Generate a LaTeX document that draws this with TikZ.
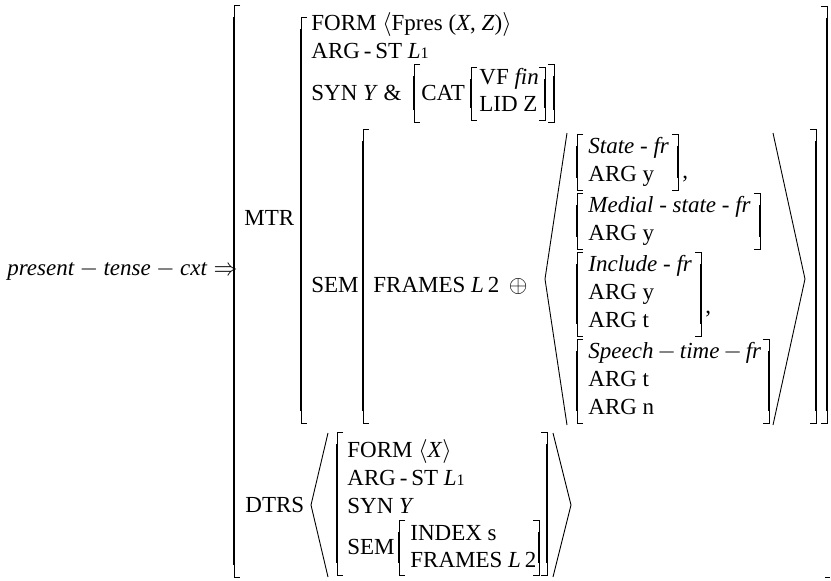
\documentclass[tikz,border=0pt]{standalone}
\usepackage{fontspec}
\setmainfont{Liberation Serif}
\usepackage{tikz}
\usetikzlibrary{calc}

\newcommand{\avmfont}{\fontsize{11.5}{13}\selectfont}
\newcommand{\LOne}{\textit{L}{\footnotesize 1}}
\newcommand{\LTwo}{\textit{L}\,2}
% square brackets: x, top, bottom
\newcommand{\avmlb}[3]{%
  \draw[brk] (#1+6,#2) -- (#1,#2) -- (#1,#3) -- (#1+6,#3);
  \draw[brkbar] (#1,#2+12) -- (#1,#3-12);}
\newcommand{\avmrb}[3]{%
  \draw[brk] (#1-6,#2) -- (#1,#2) -- (#1,#3) -- (#1-6,#3);
  \draw[brkbar] (#1,#2+12) -- (#1,#3-12);}

\begin{document}
\begin{tikzpicture}[
  x=0.5pt, y=-0.5pt,
  lbl/.style={anchor=base west, inner sep=0pt, font=\avmfont},
  brk/.style={line width=0.45pt},
  brkbar/.style={line width=1.1pt},
  ang/.style={line width=0.45pt, line join=miter}
]
  \useasboundingbox (0,0) rectangle (831,580);

  \node[lbl] (head) at (7,275)
    {$\textit{present}-\textit{tense}-\textit{cxt}\Rightarrow$};

  %% mother
  \node[lbl] (mtr) at (244,225) {MTR};
  \node[lbl] (form) at (311,30) {FORM $\langle$Fpres (\textit{X}, \textit{Z})$\rangle$};
  \node[lbl] (argst) at (311,58) {ARG\,-\,ST \LOne};
  \node[lbl] (syn) at (311,100) {SYN \textit{Y} \&};
  \node[lbl] (cat) at (421,100) {CAT};
  \node[lbl] (vf) at (479,84) {VF \textit{fin}};
  \node[lbl] (lid) at (479,111) {LID Z};
  \node[lbl] (sem) at (311,292) {SEM};
  \node[lbl] (frames) at (373,292) {FRAMES \LTwo\ \,$\oplus$};

  %% frame list
  \node[lbl] (state) at (588,153) {\textit{State - fr}};
  \node[lbl] (stargy) at (588,181) {ARG y};
  \node[lbl] (comma1) at (682,178) {,};
  \node[lbl] (medial) at (588,212) {\textit{Medial - state - fr}};
  \node[lbl] (medargy) at (588,240) {ARG y};
  \node[lbl] (incl) at (588,271) {\textit{Include - fr}};
  \node[lbl] (inargy) at (588,299) {ARG y};
  \node[lbl] (inargt) at (588,327) {ARG t};
  \node[lbl] (comma2) at (705,313) {,};
  \node[lbl] (speech) at (588,358)
    {\textit{Speech}\,$-$\,\textit{time}\,$-$\,\textit{fr}};
  \node[lbl] (sparg1) at (588,386) {ARG t};
  \node[lbl] (sparg2) at (588,414) {ARG n};

  %% daughters
  \node[lbl] (dtrs) at (245,512) {DTRS};
  \node[lbl] (dform) at (347,457) {FORM $\langle$\textit{X}$\rangle$};
  \node[lbl] (dargst) at (347,485) {ARG\,-\,ST \LOne};
  \node[lbl] (dsyn) at (347,513) {SYN \textit{Y}};
  \node[lbl] (dsem) at (347,554) {SEM};
  \node[lbl] (dindex) at (410,540) {INDEX s};
  \node[lbl] (dframes) at (410,567) {FRAMES \LTwo};

  %% brackets
  \avmlb{234}{5}{577}
  \avmlb{301}{17}{423}
  \avmlb{363}{129}{423}
  \avmrb{816}{129}{423}
  \avmrb{827}{6}{423}
  \draw[brk] (825,577) -- (830,577);
  \avmlb{414}{64}{122}
  \avmlb{471}{67}{120}
  \avmrb{545}{67}{120}
  \avmrb{554}{64}{122}
  \avmlb{577}{134}{190}
  \avmrb{678}{134}{190}
  \avmlb{577}{193}{249}
  \avmrb{760}{193}{249}
  \avmlb{577}{252}{336}
  \avmrb{701}{252}{336}
  \avmlb{577}{339}{423}
  \avmrb{769}{339}{423}
  \avmlb{337}{432}{575}
  \avmrb{547}{432}{575}
  \avmlb{399}{520}{575}
  \avmrb{539}{520}{575}

  %% angle brackets
  \draw[ang] (567,133) -- (545,279) -- (567,425);
  \draw[ang] (773,133) -- (805,279) -- (773,425);
  \draw[ang] (328,433) -- (311,505) -- (328,577);
  \draw[ang] (553,433) -- (571,505) -- (553,577);
\end{tikzpicture}
\end{document}
